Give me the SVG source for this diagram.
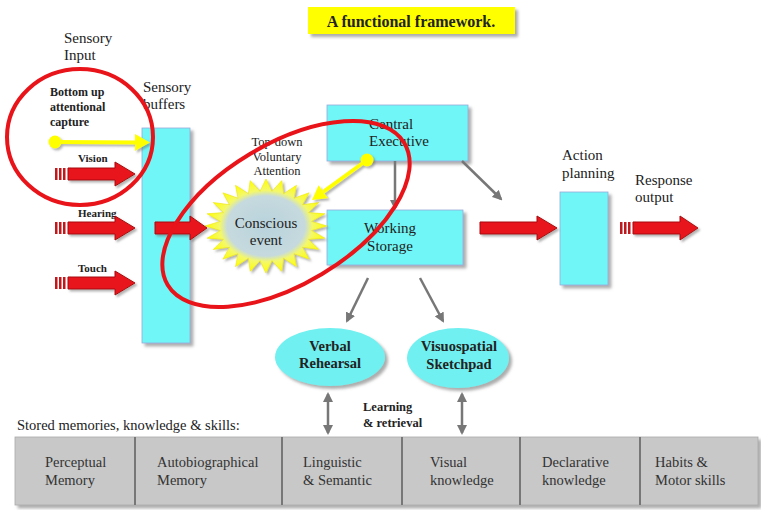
<svg xmlns="http://www.w3.org/2000/svg" width="761" height="510" viewBox="0 0 761 510">
<defs>
<style>
text{font-family:"Liberation Serif","Times New Roman",serif;fill:#222;}
.t15{font-size:15px;}
.t12{font-size:12.5px;}
.b{font-weight:bold;}
.c{text-anchor:middle;}
.box{fill:#6ff6f6;stroke:#9ad;stroke-width:0.8;filter:url(#sh);}
.red{fill:#e8161a;stroke:#a80c0c;stroke-width:1;filter:url(#sh2);}
.tick{fill:#c0181c;}
.ring{fill:none;stroke:#e8141a;stroke-width:4;}
.grey{stroke:#777;stroke-width:2.5;fill:none;}
.cell{font-size:14.5px;fill:#333;}
</style>
<filter id="sh" x="-20%" y="-20%" width="150%" height="150%">
<feDropShadow dx="3" dy="3" stdDeviation="1.5" flood-color="#777" flood-opacity="0.6"/>
</filter>
<filter id="sh2" x="-20%" y="-20%" width="150%" height="150%">
<feDropShadow dx="2" dy="2" stdDeviation="1.2" flood-color="#666" flood-opacity="0.5"/>
</filter>
<marker id="ah" viewBox="0 0 10 10" refX="8" refY="5" markerWidth="4" markerHeight="4" orient="auto-start-reverse">
<path d="M0,0 L10,5 L0,10 z" fill="#777"/>
</marker>
<radialGradient id="burst" cx="50%" cy="50%" r="50%">
<stop offset="0%" stop-color="#b8d2dc"/>
<stop offset="64%" stop-color="#c6dade"/>
<stop offset="76%" stop-color="#f4f86a"/>
<stop offset="100%" stop-color="#ffff00"/>
</radialGradient>
</defs>
<rect width="761" height="510" fill="#fff"/>

<g id="title">
<rect x="308" y="7" width="207" height="27" fill="#ffff00" filter="url(#sh)"/>
<text x="411" y="27" class="c b" font-size="16">A functional framework.</text>
</g>

<g id="labels">
<text x="64" y="43" class="t15">Sensory</text>
<text x="64" y="60" class="t15">Input</text>
<text x="50" y="96" class="b" font-size="12">Bottom up</text>
<text x="50" y="111" class="b" font-size="12">attentional</text>
<text x="50" y="126" class="b" font-size="12">capture</text>
<text x="78" y="162" font-size="11" class="b">Vision</text>
<text x="78" y="217" font-size="11" class="b">Hearing</text>
<text x="78" y="272" font-size="11" class="b">Touch</text>
<text x="277" y="146" class="t12 c">Top-down</text>
<text x="277" y="161" class="t12 c">Voluntary</text>
<text x="277" y="175" class="t12 c">Attention</text>
<text x="562" y="160" class="t15">Action</text>
<text x="562" y="178" class="t15">planning</text>
<text x="635" y="185" class="t15">Response</text>
<text x="635" y="202" class="t15">output</text>
<text x="363" y="411" class="t12 b">Learning</text>
<text x="363" y="427" class="t12 b">&amp; retrieval</text>
<text x="17" y="430" font-size="14.5">Stored memories, knowledge &amp; skills:</text>
</g>

<g id="sensory-buffers">
<rect x="142" y="128" width="48" height="215" class="box"/>
<text x="143" y="92" class="t15">Sensory</text>
<text x="143" y="109" class="t15">buffers</text>
</g>

<g id="central-executive">
<rect x="327" y="105" width="141" height="56" class="box"/>
<text x="369" y="129" class="t15">Central</text>
<text x="369" y="146" class="t15">Executive</text>
</g>

<g id="working-storage">
<rect x="327" y="210" width="136" height="55" class="box"/>
<text x="390" y="233" class="t15 c">Working</text>
<text x="390" y="251" class="t15 c">Storage</text>
</g>

<g id="action-planning">
<rect x="560" y="192" width="48" height="93" class="box"/>
</g>

<g id="conscious-event">
<polygon fill="url(#burst)" stroke="#eee600" stroke-width="0.6" filter="url(#sh2)" points="327,226 311.6,230.6 324.9,238.2 308.5,239.4 318.8,249.5 302.5,247.3 309.1,259.2 294,253.8 296.5,266.7 283.6,258.3 281.8,271.4 272,260.7 266,273 260,260.7 250.2,271.4 248.4,258.3 235.5,266.7 238,253.8 222.9,259.2 229.5,247.3 213.2,249.5 223.5,239.4 207.1,238.2 220.4,230.6 205,226 220.4,221.4 207.1,213.8 223.5,212.6 213.2,202.5 229.5,204.7 222.9,192.8 238,198.2 235.5,185.3 248.4,193.7 250.2,180.6 260,191.3 266,179 272,191.3 281.8,180.6 283.6,193.7 296.5,185.3 294,198.2 309.1,192.8 302.5,204.7 318.8,202.5 308.5,212.6 324.9,213.8 311.6,221.4"/>
<text x="266" y="228" class="t15 c">Conscious</text>
<text x="266" y="245" class="t15 c">event</text>
</g>

<g id="verbal-rehearsal">
<ellipse cx="330" cy="357" rx="55" ry="29" fill="#6ff0f0" filter="url(#sh)"/>
<text x="330" y="351" class="c b" font-size="14.5">Verbal</text>
<text x="330" y="368" class="c b" font-size="14.5">Rehearsal</text>
</g>

<g id="visuospatial-sketchpad">
<ellipse cx="458" cy="358" rx="51" ry="30" fill="#6ff0f0" filter="url(#sh)"/>
<text x="459" y="351" class="c b" font-size="14.5">Visuospatial</text>
<text x="459" y="369" class="c b" font-size="14.5">Sketchpad</text>
</g>

<g id="memory-store">
<rect x="15" y="437" width="743" height="68" fill="#c8c8c8" stroke="#aaa" stroke-width="0.8" filter="url(#sh)"/>
<g stroke="#777" stroke-width="2">
<line x1="135" y1="437" x2="135" y2="505"/>
<line x1="282" y1="437" x2="282" y2="505"/>
<line x1="402" y1="437" x2="402" y2="505"/>
<line x1="520" y1="437" x2="520" y2="505"/>
<line x1="640" y1="437" x2="640" y2="505"/>
</g>
<text x="45" y="467" class="cell">Perceptual</text>
<text x="45" y="485" class="cell">Memory</text>
<text x="157" y="467" class="cell">Autobiographical</text>
<text x="157" y="485" class="cell">Memory</text>
<text x="303" y="467" class="cell">Linguistic</text>
<text x="303" y="485" class="cell">&amp; Semantic</text>
<text x="430" y="467" class="cell">Visual</text>
<text x="430" y="485" class="cell">knowledge</text>
<text x="542" y="467" class="cell">Declarative</text>
<text x="542" y="485" class="cell">knowledge</text>
<text x="655" y="467" class="cell">Habits &amp;</text>
<text x="655" y="485" class="cell">Motor skills</text>
</g>

<g id="connectors">
<line x1="395" y1="161" x2="395" y2="208" class="grey" marker-end="url(#ah)"/>
<line x1="462" y1="161" x2="501" y2="199" class="grey" marker-end="url(#ah)"/>
<line x1="368" y1="278" x2="347" y2="321" class="grey" marker-end="url(#ah)"/>
<line x1="420" y1="278" x2="443" y2="321" class="grey" marker-end="url(#ah)"/>
<line x1="328" y1="394" x2="328" y2="433" class="grey" marker-start="url(#ah)" marker-end="url(#ah)"/>
<line x1="462" y1="394" x2="462" y2="433" class="grey" marker-start="url(#ah)" marker-end="url(#ah)"/>
<g>
<rect x="55" y="168" width="2.5" height="12" class="tick"/><rect x="59" y="168" width="2.5" height="12" class="tick"/><rect x="63" y="168" width="2.5" height="12" class="tick"/>
<path d="M68,168 H115 V162 L135,174 L115,186 V180 H68 Z" class="red"/>
</g>
<g>
<rect x="55" y="222" width="2.5" height="12" class="tick"/><rect x="59" y="222" width="2.5" height="12" class="tick"/><rect x="63" y="222" width="2.5" height="12" class="tick"/>
<path d="M68,222 H115 V216 L135,228 L115,240 V234 H68 Z" class="red"/>
</g>
<g>
<rect x="55" y="277" width="2.5" height="12" class="tick"/><rect x="59" y="277" width="2.5" height="12" class="tick"/><rect x="63" y="277" width="2.5" height="12" class="tick"/>
<path d="M68,277 H115 V271 L135,283 L115,295 V289 H68 Z" class="red"/>
</g>
<path d="M155,222 H190 V216 L207,228 L190,240 V234 H155 Z" class="red"/>
<path d="M480,222 H537 V216 L557,228 L537,240 V234 H480 Z" class="red"/>
<g>
<rect x="620" y="222" width="2.5" height="12" class="tick"/><rect x="624" y="222" width="2.5" height="12" class="tick"/><rect x="628" y="222" width="2.5" height="12" class="tick"/>
<path d="M633,222 H680 V216 L698,228 L680,240 V234 H633 Z" class="red"/>
</g>
<g filter="url(#sh2)">
<line x1="55" y1="142" x2="137" y2="142.5" stroke="#ffff00" stroke-width="4"/>
<polygon points="135,134 150,142.5 135,151" fill="#ffff00"/>
<circle cx="55" cy="142" r="6.5" fill="#ffff00"/>
<line x1="367" y1="160" x2="323.3" y2="191.8" stroke="#ffff00" stroke-width="4"/>
<polygon points="328,198.3 312,200 318.6,185.3" fill="#ffff00"/>
<circle cx="367" cy="160" r="6.5" fill="#ffff00"/>
</g>
<ellipse cx="80" cy="137" rx="73" ry="68" class="ring"/>
<ellipse cx="286" cy="214" rx="138" ry="70" transform="rotate(-31 286 214)" class="ring"/>
</g>
</svg>
